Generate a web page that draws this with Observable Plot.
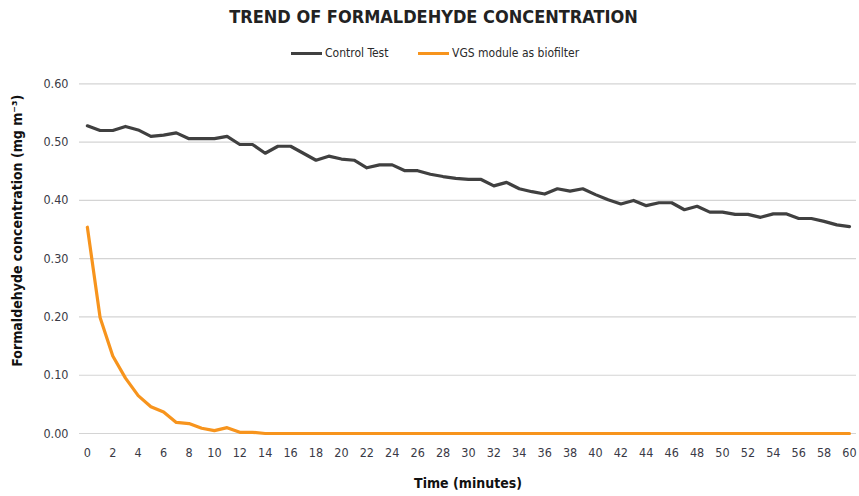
<!DOCTYPE html>
<html>
<head>
<meta charset="utf-8">
<script src="https://cdn.jsdelivr.net/npm/d3@7"></script>
<script src="https://cdn.jsdelivr.net/npm/@observablehq/plot@0.6"></script>
<style>
  html, body { margin: 0; padding: 0; background: #fff; }
  body { width: 859px; height: 496px; overflow: hidden; font-family: "Liberation Sans Narrow", "DejaVu Sans Condensed", "Roboto Condensed", "Liberation Sans", sans-serif; }
  #title { height: 36px; line-height: 34px; text-align: center; font-weight: bold; font-size: 18px; color: #222; padding-left: 8px; }
  #legend { height: 34px; position: relative; font-size: 12px; color: #2a2a2a; }
  .item { position: absolute; top: 10px; display: flex; align-items: center; }
  .sw { display: inline-block; width: 31px; height: 3px; margin-right: 3px; }
</style>
</head>
<body>
<div id="title">TREND OF FORMALDEHYDE CONCENTRATION</div>
<div id="legend"></div>
<div id="chart"></div>
<script>
const minutes = [0,1,2,3,4,5,6,7,8,9,10,11,12,13,14,15,16,17,18,19,20,21,22,23,24,25,26,27,28,29,30,31,32,33,34,35,36,37,38,39,40,41,42,43,44,45,46,47,48,49,50,51,52,53,54,55,56,57,58,59,60];
const controlTest = [0.528,0.520,0.520,0.527,0.521,0.510,0.512,0.516,0.506,0.506,0.506,0.510,0.496,0.496,0.481,0.493,0.493,0.481,0.469,0.476,
  0.471,0.469,0.456,0.461,0.461,0.451,0.451,0.445,0.441,0.438,0.436,0.436,0.425,0.431,0.420,0.415,0.411,0.420,0.416,0.420,
  0.410,0.401,0.394,0.400,0.391,0.396,0.396,0.384,0.390,0.380,0.380,0.376,0.376,0.371,0.377,0.377,0.369,0.369,0.364,0.358,0.355];
const vgsBiofilter = [0.354,0.199,0.133,0.095,0.065,0.046,0.037,0.019,0.017,0.009,0.005,0.010,0.002,0.002,0.000,0.000,0.000,0.000,0.000,0.000,
  0,0,0,0,0,0,0,0,0,0,0,0,0,0,0,0,0,0,0,0,0,0,0,0,0,0,0,0,0,0,0,0,0,0,0,0,0,0,0,0,0];
const seriesNames = ["Control Test", "VGS module as biofilter"];
const seriesColors = ["#404040", "#F7941D"];
const xTicks = [0,2,4,6,8,10,12,14,16,18,20,22,24,26,28,30,32,34,36,38,40,42,44,46,48,50,52,54,56,58,60];
const yTicks = [0,0.1,0.2,0.3,0.4,0.5,0.6];
const xLabel = "Time (minutes)";
const yLabel = "Formaldehyde concentration (mg m⁻³)";

const rows = [];
minutes.forEach((m, i) => {
  rows.push({minute: m, value: controlTest[i], series: seriesNames[0]});
  rows.push({minute: m, value: vgsBiofilter[i], series: seriesNames[1]});
});

// legend
const legend = document.getElementById("legend");
const legendX = [291, 418];
seriesNames.forEach((n, i) => {
  const d = document.createElement("div");
  d.className = "item";
  d.style.left = legendX[i] + "px";
  d.innerHTML = `<span class="sw" style="background:${seriesColors[i]}"></span><span>${n}</span>`;
  legend.appendChild(d);
});

const fontFam = '"Liberation Sans Narrow", "DejaVu Sans Condensed", "Roboto Condensed", "Liberation Sans", sans-serif';
const chart = Plot.plot({
  width: 859,
  height: 426,
  marginLeft: 79,
  marginRight: 3,
  marginTop: 13.4,
  marginBottom: 63,
  style: {fontFamily: fontFam, fontSize: "12px", color: "#3a3a46", background: "#fff"},
  x: {domain: [-0.62, 60.55]},
  y: {domain: [0, 0.6]},
  color: {domain: seriesNames, range: seriesColors},
  marks: [
    Plot.gridY(yTicks, {stroke: "#d4d4d4", strokeOpacity: 1, strokeWidth: 1.2}),
    Plot.axisY(yTicks, {tickSize: 0, tickPadding: 11, tickFormat: d3.format(".2f"), fontSize: 12.5, label: null}),
    Plot.axisX(xTicks, {tickSize: 0, tickPadding: 15, fontSize: 12.5, label: null}),
    Plot.text([yLabel], {frameAnchor: "left", textAnchor: "middle", rotate: -90, dx: -62, dy: -28, fontSize: 14, fontWeight: "bold", fill: "#111"}),
    Plot.text([xLabel], {frameAnchor: "bottom", dy: 54, fontSize: 14, fontWeight: "bold", fill: "#111"}),
    Plot.line(rows, {x: "minute", y: "value", z: "series", stroke: "series", strokeWidth: 3.2, strokeLinejoin: "round"})
  ]
});
document.getElementById("chart").appendChild(chart);
</script>
</body>
</html>
